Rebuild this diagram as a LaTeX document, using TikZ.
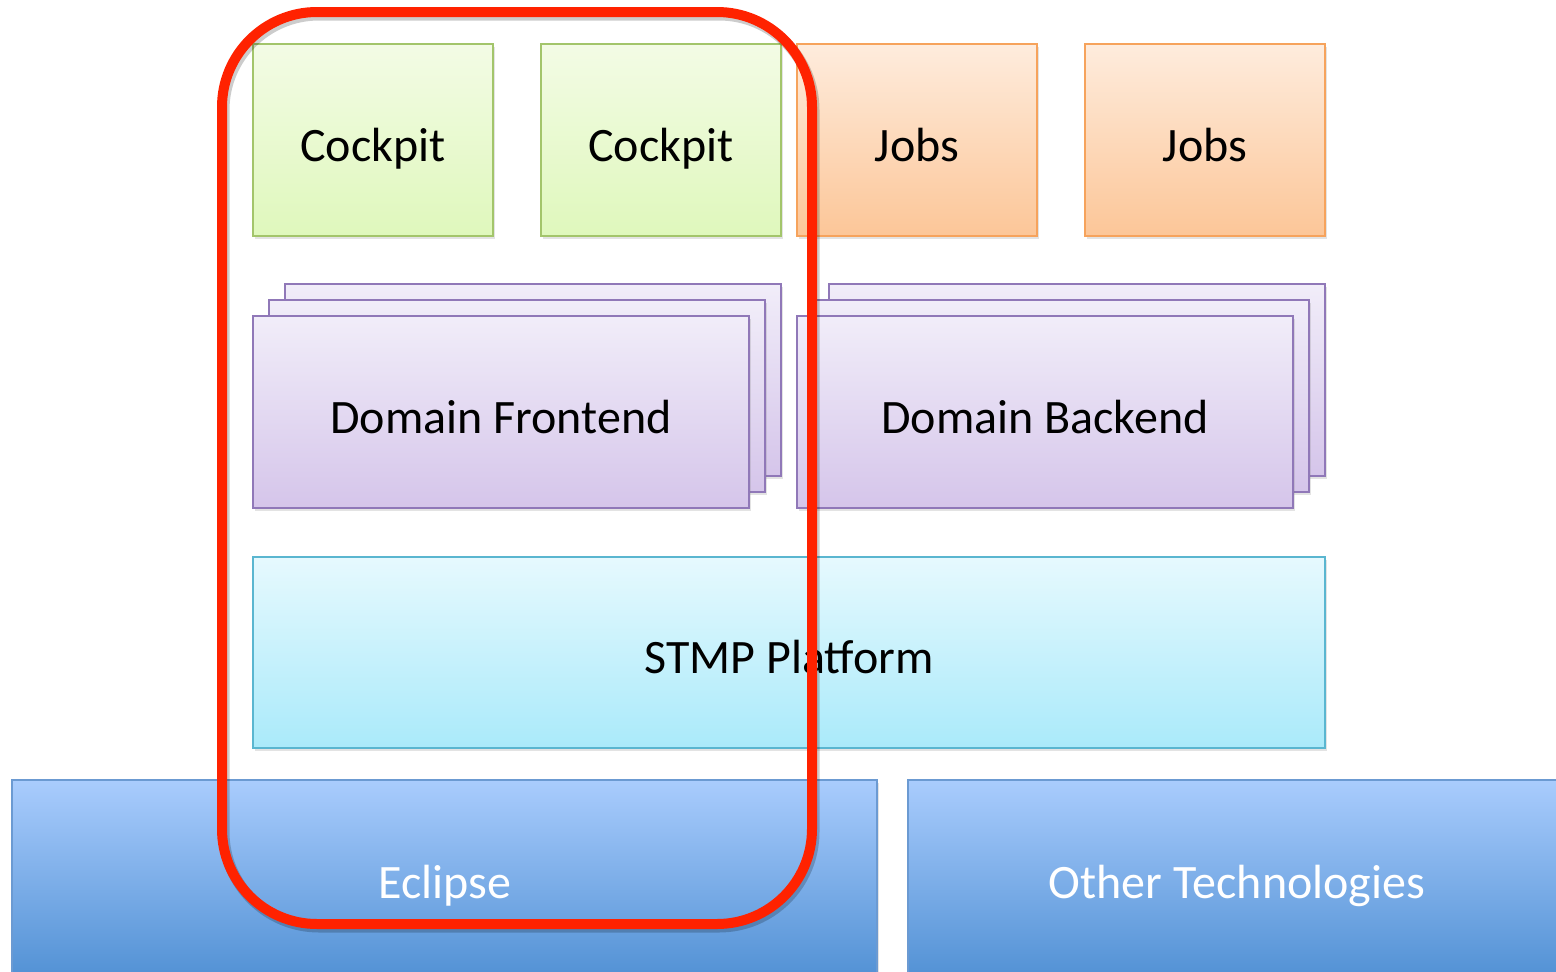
\documentclass[tikz,border=0pt]{standalone}
\usepackage{fontspec}
\setmainfont{Carlito}
\usetikzlibrary{shadows}
\definecolor{gtop}{HTML}{F3FBE5}
\definecolor{gbot}{HTML}{DFF8BC}
\definecolor{gline}{HTML}{A3C56B}
\definecolor{otop}{HTML}{FEECDD}
\definecolor{obot}{HTML}{FCC698}
\definecolor{oline}{HTML}{F6A35C}
\definecolor{ptop}{HTML}{F1EDF9}
\definecolor{pbot}{HTML}{D5C5EA}
\definecolor{pline}{HTML}{9078B8}
\definecolor{ctop}{HTML}{E6F9FE}
\definecolor{cbot}{HTML}{AAEAFA}
\definecolor{cline}{HTML}{5AB6D0}
\definecolor{btop}{HTML}{A9CCFD}
\definecolor{bbot}{HTML}{5392D5}
\definecolor{bline}{HTML}{6B9AD2}
\definecolor{redframe}{HTML}{FF2200}
\tikzset{
  box/.style={rectangle, inner sep=0pt, line width=1.5pt,
    drop shadow={shadow xshift=2pt, shadow yshift=-3pt, opacity=0.22}},
  greenbox/.style={box, draw=gline, top color=gtop, bottom color=gbot, minimum width=240pt, minimum height=192pt},
  orangebox/.style={box, draw=oline, top color=otop, bottom color=obot, minimum width=240pt, minimum height=192pt},
  purplebox/.style={box, draw=pline, top color=ptop, bottom color=pbot, minimum width=496pt, minimum height=192pt},
  cyanbox/.style={box, draw=cline, top color=ctop, bottom color=cbot, minimum width=1072pt, minimum height=191pt},
  bluebox/.style={box, draw=bline, top color=btop, bottom color=bbot},
  lbl/.style={anchor=base, font=\fontsize{48}{56}\selectfont, text=black, inner sep=0pt},
  wlbl/.style={lbl, text=white},
  frame/.style={draw=redframe, line width=10pt, rounded corners=95pt},
  frameshadow/.style={draw=black, draw opacity=0.2, line width=11pt, rounded corners=95pt}
}
\begin{document}
\begin{tikzpicture}[x=1pt,y=-1pt]
\useasboundingbox (0,0) rectangle (1556,972);
\clip (0,0) rectangle (1556,972);
% bottom layer
\node[bluebox, minimum width=865pt, minimum height=195pt] (eclipse) at (444.5,877.5) {};
\node[bluebox, minimum width=660pt, minimum height=195pt] (other) at (1238,877.5) {};
\node[wlbl] (eclipsel) at (445,898) {Eclipse};
\node[wlbl] (otherl) at (1237,898) {Other Technologies};
% platform
\node[cyanbox] (stmp) at (789,652.5) {};
\node[lbl] (stmpl) at (789,673) {STMP Platform};
% domain frontend stack
\node[purplebox] (fe3) at (533,380) {};
\node[purplebox] (fe2) at (517,396) {};
\node[purplebox] (fe1) at (501,412) {};
\node[lbl] (fel) at (501,433) {Domain Frontend};
% domain backend stack
\node[purplebox] (be3) at (1077,380) {};
\node[purplebox] (be2) at (1061,396) {};
\node[purplebox] (be1) at (1045,412) {};
\node[lbl] (bel) at (1045,433) {Domain Backend};
% top row
\node[greenbox] (c1) at (373,140) {};
\node[lbl] (c1l) at (373,161) {Cockpit};
\node[greenbox] (c2) at (661,140) {};
\node[lbl] (c2l) at (661,161) {Cockpit};
\node[orangebox] (j1) at (917,140) {};
\node[lbl] (j1l) at (917,161) {Jobs};
\node[orangebox] (j2) at (1205,140) {};
\node[lbl] (j2l) at (1205,161) {Jobs};
% red frame
\draw[frameshadow] (224,15) rectangle (814,927);
\draw[frame] (222,12) rectangle (812,924);
\end{tikzpicture}
\end{document}
